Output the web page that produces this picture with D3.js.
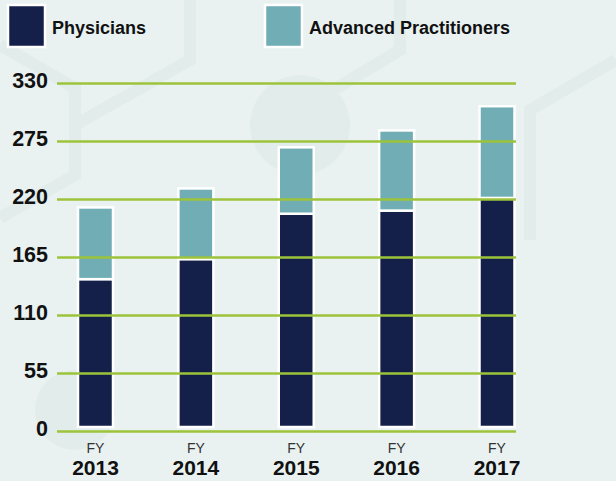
<!DOCTYPE html>
<html>
<head>
<meta charset="utf-8">
<script src="https://cdn.jsdelivr.net/npm/d3@7"></script>
<style>
  body { margin: 0; background: #e9f2f1; }
  svg { display: block; font-family: "Liberation Sans", Arial, sans-serif; }
</style>
</head>
<body>
<div id="chart"></div>
<script>
// data
const years = ["2013", "2014", "2015", "2016", "2017"];
const physicians = [144, 163, 206, 209, 221];
const advanced = [68, 67, 63, 76, 87];
const yTicks = [0, 55, 110, 165, 220, 275, 330];
const seriesNames = ["Physicians", "Advanced Practitioners"];

const width = 616, height = 481;
const colors = { "Physicians": "#14204a", "Advanced Practitioners": "#71adb5" };

const svg = d3.select("#chart")
  .append("svg")
    .attr("width", width)
    .attr("height", height);

svg.append("rect")
  .attr("width", width)
  .attr("height", height)
  .attr("fill", "#e9f2f1");

// faint molecule decoration in the background
const deco = svg.append("g")
  .attr("fill", "none")
  .attr("stroke", "#e2edeb")
  .attr("stroke-width", 12);
deco.append("path").attr("d", "M0,45 L75,88 L75,175 L0,218");
deco.append("path").attr("d", "M190,0 L190,60 L75,125");
deco.append("path").attr("d", "M400,0 L400,50 L300,110");
deco.append("path").attr("d", "M616,60 L530,110 L530,240");
deco.append("circle").attr("cx", 75).attr("cy", 410).attr("r", 40).attr("fill", "#e2edeb").attr("stroke", "none");
deco.append("circle").attr("cx", 300).attr("cy", 125).attr("r", 50).attr("fill", "#e2edeb").attr("stroke", "none");

// scales
const x = d3.scalePoint()
  .domain(years)
  .range([95.5, 497]);
const barWidth = 35;

const y = d3.scaleLinear()
  .domain([0, 330])
  .range([431, 83]);

// stacked bars
const table = years.map((yr, i) => ({ year: yr, "Physicians": physicians[i], "Advanced Practitioners": advanced[i] }));
const stacked = d3.stack().keys(seriesNames)(table);

svg.append("g")
  .selectAll("g")
  .data(stacked)
  .join("g")
    .attr("fill", d => colors[d.key])
    .selectAll("rect")
    .data(d => d)
    .join("rect")
      .attr("x", d => x(d.data.year) - barWidth / 2)
      .attr("y", d => y(d[1]))
      .attr("width", barWidth)
      .attr("height", d => y(d[0]) - y(d[1]) - (d[0] === 0 ? 4 : 0))
      .attr("stroke", "#ffffff")
      .attr("stroke-width", 2.5);

// gridlines + tick labels (drawn over bars)
const yAxis = svg.append("g")
  .attr("transform", "translate(57,0)")
  .call(d3.axisLeft(y).tickValues(yTicks).tickSize(-459).tickPadding(9).tickFormat(d3.format("d")));
yAxis.select(".domain").remove();
yAxis.selectAll(".tick line")
  .attr("stroke", "#9dc33b")
  .attr("stroke-width", 2.5);
yAxis.selectAll(".tick text")
  .attr("fill", "#111")
  .attr("font-size", 21.5)
  .attr("font-weight", "bold")
  .attr("dy", "0.2em")
  .attr("font-family", "'Liberation Sans', Arial, sans-serif");

// x labels
const xl = svg.append("g")
  .selectAll("g")
  .data(years)
  .join("g")
    .attr("transform", d => `translate(${x(d)},0)`);
xl.append("text")
  .attr("y", 453)
  .attr("text-anchor", "middle")
  .attr("font-size", 14)
  .attr("fill", "#333")
  .text("FY");
xl.append("text")
  .attr("y", 475)
  .attr("text-anchor", "middle")
  .attr("font-size", 21)
  .attr("font-weight", "bold")
  .attr("fill", "#111")
  .text(d => d);

// legend
const legendX = [8, 265];
const legend = svg.append("g")
  .selectAll("g")
  .data(seriesNames)
  .join("g")
    .attr("transform", (d, i) => `translate(${legendX[i]},5)`);
legend.append("rect")
  .attr("width", 37)
  .attr("height", 42)
  .attr("fill", d => colors[d])
  .attr("stroke", "#ffffff")
  .attr("stroke-width", 2.5);
legend.append("text")
  .attr("x", 44)
  .attr("y", 29)
  .attr("font-size", 18)
  .attr("font-weight", "bold")
  .attr("fill", "#111")
  .text(d => d);
</script>
</body>
</html>
